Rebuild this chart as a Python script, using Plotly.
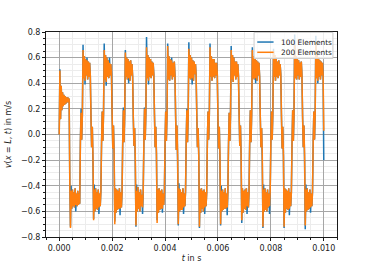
import plotly.graph_objects as go

# sample spacing of the velocity signal (s)
sample_step = 0.000025

# v(x=L, t) for 200 elements (one block per period)
v_200 = [
    # initial plateau + first negative band
    0.00, 0.50, 0.12, 0.38, 0.19, 0.33, 0.22, 0.31, 0.23, 0.30, 0.24, 0.29, 0.25, 0.29, 0.25, 0.28,
    -0.38, -0.73, -0.44, -0.58, -0.43, -0.56, -0.45, -0.57, -0.42, -0.55, -0.46, -0.56, -0.44, -0.55, -0.46, -0.54,
    # period 1
    -0.06, 0.17, -0.04, 0.16, 0.66, 0.44, 0.61, 0.42, 0.59, 0.46, 0.58, 0.43, 0.57, 0.45, 0.56, 0.46,
    0.14, -0.10, 0.06, -0.16, -0.67, -0.43, -0.60, -0.42, -0.58, -0.45, -0.59, -0.43, -0.57, -0.46, -0.56, -0.44,
    # period 2
    -0.07, 0.18, -0.05, 0.17, 0.66, 0.43, 0.62, 0.41, 0.60, 0.45, 0.58, 0.44, 0.56, 0.46, 0.55, 0.47,
    0.15, -0.11, 0.07, -0.15, -0.70, -0.42, -0.61, -0.43, -0.59, -0.44, -0.58, -0.42, -0.58, -0.45, -0.57, -0.45,
    # period 3
    -0.05, 0.19, -0.06, 0.16, 0.64, 0.45, 0.60, 0.43, 0.59, 0.44, 0.57, 0.42, 0.58, 0.46, 0.55, 0.45,
    0.13, -0.09, 0.05, -0.17, -0.71, -0.44, -0.60, -0.41, -0.58, -0.45, -0.60, -0.43, -0.56, -0.47, -0.57, -0.44,
    # period 4
    -0.06, 0.20, -0.04, 0.17, 0.68, 0.44, 0.62, 0.42, 0.60, 0.45, 0.59, 0.44, 0.57, 0.46, 0.56, 0.47,
    0.16, -0.10, 0.06, -0.15, -0.69, -0.43, -0.61, -0.42, -0.59, -0.44, -0.58, -0.43, -0.58, -0.46, -0.55, -0.45,
    # period 5
    -0.07, 0.18, -0.05, 0.16, 0.69, 0.43, 0.61, 0.42, 0.59, 0.46, 0.58, 0.43, 0.56, 0.45, 0.57, 0.46,
    0.14, -0.12, 0.07, -0.16, -0.70, -0.42, -0.60, -0.43, -0.59, -0.45, -0.59, -0.42, -0.57, -0.46, -0.56, -0.44,
    # period 6
    -0.05, 0.19, -0.06, 0.15, 0.67, 0.44, 0.62, 0.43, 0.60, 0.44, 0.58, 0.42, 0.57, 0.47, 0.55, 0.46,
    0.15, -0.10, 0.05, -0.17, -0.72, -0.43, -0.61, -0.42, -0.58, -0.44, -0.60, -0.43, -0.57, -0.45, -0.56, -0.45,
    # period 7
    -0.06, 0.18, -0.04, 0.17, 0.68, 0.45, 0.61, 0.42, 0.59, 0.45, 0.59, 0.44, 0.56, 0.46, 0.56, 0.47,
    0.13, -0.11, 0.06, -0.15, -0.70, -0.44, -0.60, -0.43, -0.59, -0.45, -0.58, -0.42, -0.58, -0.46, -0.57, -0.44,
    # period 8
    -0.07, 0.17, -0.05, 0.16, 0.66, 0.43, 0.62, 0.41, 0.60, 0.46, 0.57, 0.43, 0.57, 0.45, 0.55, 0.46,
    0.16, -0.09, 0.07, -0.16, -0.67, -0.42, -0.61, -0.44, -0.58, -0.43, -0.59, -0.42, -0.56, -0.45, -0.57, -0.45,
    # period 9
    -0.05, 0.19, -0.06, 0.16, 0.66, 0.44, 0.61, 0.43, 0.59, 0.44, 0.58, 0.42, 0.57, 0.46, 0.56, 0.45,
    0.14, -0.10, 0.05, -0.15, -0.72, -0.43, -0.60, -0.42, -0.59, -0.45, -0.60, -0.43, -0.57, -0.46, -0.56, -0.44,
    # period 10
    -0.06, 0.18, -0.04, 0.17, 0.65, 0.45, 0.62, 0.42, 0.60, 0.45, 0.57, 0.44, 0.58, 0.46, 0.55, 0.47,
    0.15, -0.11, 0.06, -0.17, -0.72, -0.42, -0.61, -0.43, -0.58, -0.44, -0.59, -0.42, -0.58, -0.45, -0.56, -0.45,
    # period 11
    -0.07, 0.19, -0.05, 0.16, 0.70, 0.44, 0.61, 0.43, 0.59, 0.46, 0.58, 0.43, 0.56, 0.45, 0.57, 0.46,
    0.13, -0.10, 0.07, -0.16, -0.71, -0.43, -0.60, -0.42, -0.59, -0.45, -0.58, -0.43, -0.57, -0.46, -0.56, -0.44,
    # period 12 (last positive band, end of record)
    -0.06, 0.18, -0.04, 0.16, 0.72, 0.44, 0.62, 0.42, 0.60, 0.45, 0.58, 0.43, 0.57, 0.46, 0.56, 0.46,
    0.03,
]

# v(x=L, t) for 100 elements (mostly under the orange curve)
v_100 = [
    0.00, 0.51, 0.12, 0.38, 0.19, 0.33, 0.22, 0.31, 0.23, 0.30, 0.24, 0.29, 0.25, 0.29, 0.25, 0.28,
    -0.38, -0.72, -0.40, -0.58, -0.43, -0.56, -0.45, -0.57, -0.42, -0.60, -0.46, -0.56, -0.44, -0.55, -0.46, -0.54,
    # period 1
    -0.06, 0.20, -0.04, 0.16, 0.70, 0.44, 0.61, 0.39, 0.59, 0.46, 0.60, 0.43, 0.57, 0.45, 0.56, 0.46,
    0.14, -0.10, 0.06, -0.21, -0.66, -0.39, -0.60, -0.42, -0.58, -0.45, -0.59, -0.43, -0.62, -0.46, -0.56, -0.44,
    # period 2
    -0.07, 0.18, -0.05, 0.17, 0.71, 0.43, 0.62, 0.38, 0.60, 0.45, 0.58, 0.44, 0.60, 0.46, 0.55, 0.47,
    0.15, -0.11, 0.07, -0.15, -0.68, -0.42, -0.61, -0.43, -0.59, -0.44, -0.58, -0.42, -0.63, -0.45, -0.57, -0.45,
    # period 3
    -0.05, 0.21, -0.06, 0.16, 0.66, 0.45, 0.60, 0.43, 0.59, 0.40, 0.57, 0.42, 0.58, 0.46, 0.55, 0.45,
    0.13, -0.09, 0.05, -0.22, -0.72, -0.39, -0.60, -0.41, -0.58, -0.45, -0.60, -0.43, -0.56, -0.47, -0.62, -0.44,
    # period 4
    -0.06, 0.21, -0.04, 0.17, 0.76, 0.44, 0.62, 0.39, 0.60, 0.45, 0.59, 0.44, 0.57, 0.46, 0.56, 0.47,
    0.16, -0.10, 0.06, -0.15, -0.67, -0.43, -0.61, -0.42, -0.59, -0.44, -0.58, -0.43, -0.61, -0.46, -0.55, -0.45,
    # period 5
    -0.07, 0.18, -0.05, 0.16, 0.71, 0.43, 0.61, 0.42, 0.59, 0.46, 0.60, 0.43, 0.56, 0.45, 0.57, 0.46,
    0.14, -0.12, 0.07, -0.21, -0.71, -0.38, -0.60, -0.43, -0.59, -0.45, -0.59, -0.42, -0.62, -0.46, -0.56, -0.44,
    # period 6
    -0.05, 0.20, -0.06, 0.15, 0.72, 0.44, 0.62, 0.43, 0.60, 0.39, 0.58, 0.42, 0.57, 0.47, 0.55, 0.46,
    0.15, -0.10, 0.05, -0.17, -0.73, -0.43, -0.61, -0.42, -0.58, -0.44, -0.60, -0.43, -0.62, -0.45, -0.56, -0.45,
    # period 7
    -0.06, 0.18, -0.04, 0.17, 0.71, 0.45, 0.61, 0.42, 0.59, 0.45, 0.59, 0.44, 0.56, 0.46, 0.56, 0.47,
    0.13, -0.11, 0.06, -0.20, -0.71, -0.40, -0.60, -0.43, -0.59, -0.45, -0.58, -0.42, -0.58, -0.46, -0.63, -0.44,
    # period 8
    -0.07, 0.17, -0.05, 0.16, 0.69, 0.43, 0.62, 0.41, 0.60, 0.46, 0.57, 0.43, 0.57, 0.45, 0.55, 0.46,
    0.16, -0.09, 0.07, -0.16, -0.69, -0.42, -0.61, -0.44, -0.58, -0.43, -0.59, -0.42, -0.62, -0.45, -0.57, -0.45,
    # period 9
    -0.05, 0.19, -0.06, 0.16, 0.68, 0.44, 0.61, 0.43, 0.59, 0.40, 0.58, 0.42, 0.57, 0.46, 0.56, 0.45,
    0.14, -0.10, 0.05, -0.21, -0.73, -0.39, -0.60, -0.42, -0.59, -0.45, -0.60, -0.43, -0.57, -0.46, -0.62, -0.44,
    # period 10
    -0.06, 0.18, -0.04, 0.17, 0.67, 0.45, 0.62, 0.42, 0.60, 0.45, 0.57, 0.44, 0.58, 0.46, 0.55, 0.47,
    0.15, -0.11, 0.06, -0.17, -0.73, -0.42, -0.61, -0.43, -0.58, -0.44, -0.59, -0.42, -0.63, -0.45, -0.56, -0.45,
    # period 11
    -0.07, 0.19, -0.05, 0.16, 0.78, 0.44, 0.61, 0.43, 0.59, 0.46, 0.58, 0.43, 0.56, 0.45, 0.57, 0.46,
    0.13, -0.10, 0.07, -0.21, -0.74, -0.39, -0.60, -0.42, -0.59, -0.45, -0.58, -0.43, -0.61, -0.46, -0.56, -0.44,
    # period 12
    -0.06, 0.18, -0.04, 0.16, 0.77, 0.44, 0.62, 0.40, 0.60, 0.45, 0.58, 0.43, 0.57, 0.46, 0.56, 0.46,
    -0.20,
]

t_200 = [round(i * sample_step, 7) for i in range(len(v_200))]
t_100 = [round(i * sample_step, 7) for i in range(len(v_100))]

series_names = ["100 Elements", "200 Elements"]
series_colors = ["#1f77b4", "#ff7f0e"]

x_range = [-0.0005, 0.0105]
y_range = [-0.8, 0.8]

font = "DejaVu Sans, Liberation Sans, sans-serif"
ink = "#1a1a1a"

fig = go.Figure()
fig.add_trace(go.Scatter(x=t_100, y=v_100, mode="lines", name=series_names[0],
                         line=dict(color=series_colors[0], width=1.5, simplify=False)))
fig.add_trace(go.Scatter(x=t_200, y=v_200, mode="lines", name=series_names[1],
                         line=dict(color=series_colors[1], width=1.5, simplify=False)))

axis_common = dict(
    showline=True, linecolor=ink, linewidth=1, mirror=True,
    ticks="outside", ticklen=3, tickwidth=1, tickcolor=ink,
    showgrid=True, gridcolor="#a6a6a6", gridwidth=1,
    zeroline=False, automargin=False,
    tickfont=dict(family=font, size=8, color=ink),
)

fig.update_xaxes(
    range=x_range, tick0=0, dtick=0.002, tickformat=".3f",
    minor=dict(dtick=0.0005, ticks="outside", ticklen=2, tickcolor=ink,
               showgrid=True, gridcolor="#ececec", gridwidth=1),
    title=dict(text="<i>t</i> in s", font=dict(family=font, size=8, color=ink), standoff=3),
    **axis_common,
)
fig.update_yaxes(
    range=y_range, tick0=0, dtick=0.2, tickformat=".1f",
    minor=dict(dtick=0.05, ticks="outside", ticklen=2, tickcolor=ink,
               showgrid=True, gridcolor="#ececec", gridwidth=1),
    title=dict(text="<i>v</i>(<i>x</i> = <i>L</i>, <i>t</i>) in m/s",
               font=dict(family=font, size=8, color=ink), standoff=8),
    **axis_common,
)

# compact legend box (matplotlib style), drawn in paper coordinates
legend_shapes = [
    dict(type="rect", xref="paper", yref="paper", x0=0.715, x1=0.986, y0=0.871, y1=0.998,
         fillcolor="rgba(255,255,255,0.8)", line=dict(color="#cccccc", width=1), layer="above"),
    dict(type="line", xref="paper", yref="paper", x0=0.726, x1=0.782, y0=0.951, y1=0.951,
         line=dict(color=series_colors[0], width=1.5), layer="above"),
    dict(type="line", xref="paper", yref="paper", x0=0.726, x1=0.782, y0=0.901, y1=0.901,
         line=dict(color=series_colors[1], width=1.5), layer="above"),
]
legend_labels = [
    dict(text=series_names[0], xref="paper", yref="paper", x=0.802, y=0.951,
         xanchor="left", yanchor="middle", showarrow=False,
         font=dict(family=font, size=7.4, color=ink)),
    dict(text=series_names[1], xref="paper", yref="paper", x=0.802, y=0.901,
         xanchor="left", yanchor="middle", showarrow=False,
         font=dict(family=font, size=7.4, color=ink)),
]

fig.update_layout(
    width=374, height=267,
    margin=dict(l=46, r=37, t=32, b=30),
    paper_bgcolor="white", plot_bgcolor="white",
    font=dict(family=font, size=8, color=ink),
    showlegend=False,
    shapes=legend_shapes,
    annotations=legend_labels,
)

fig.write_html("out.html", post_script="document.body.style.margin='0';",
               config={"displayModeBar": False})
